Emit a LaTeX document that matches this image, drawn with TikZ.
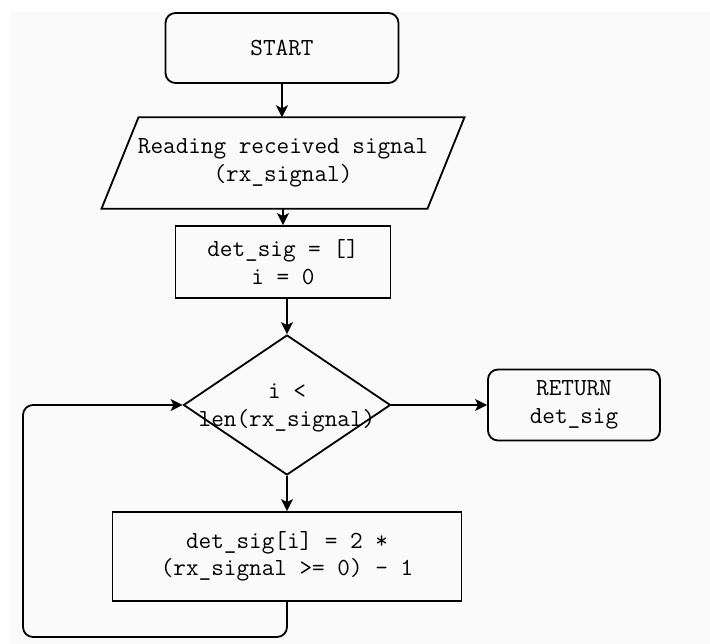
\documentclass[tikz,border=0pt]{standalone}
\usepackage{fontspec}
\usetikzlibrary{shapes.geometric,arrows.meta}
\definecolor{bgc}{HTML}{FAFAFA}
\begin{document}
\begin{tikzpicture}[x=1pt,y=-1pt,
  every node/.style={font=\ttfamily\fontsize{24.5}{27.5}\selectfont, align=center, inner sep=0pt},
  line/.style={line width=1.8pt, draw=black},
  arr/.style={line, -{Stealth[length=12pt,width=12pt,inset=3pt]}},
  term/.style={draw, line width=1.8pt, rounded corners=10pt, rectangle},
  proc/.style={draw, line width=1.8pt, rectangle}]
\fill[white] (0,0) rectangle (710,644);
\fill[bgc] (10,12) rectangle (710,644);
\useasboundingbox (0,0) rectangle (710,644);

\node[term, minimum width=233, minimum height=70] (start) at (282,48) {START};
\node[minimum width=326, minimum height=91] (read) at (283,163) {Reading received signal\\(rx\_signal)};
\draw[line] ([xshift=-144.5pt]read.north) -- ([xshift=181.5pt]read.north) -- ([xshift=144.5pt]read.south) -- ([xshift=-181.5pt]read.south) -- cycle;
\node[proc, minimum width=215, minimum height=72] (init) at (283,262) {det\_sig = []\\i = 0};
\node[diamond, draw, line width=1.8pt, minimum width=207, minimum height=140] (cond) at (287,405) {};
\node (condtext) at (287,408) {i <\\len(rx\_signal)};
\node[term, minimum width=172, minimum height=71] (ret) at (574,405) {RETURN\\det\_sig};
\node[proc, minimum width=349, minimum height=89] (body) at (287,556.5) {det\_sig[i] = 2 *\\(rx\_signal >= 0) - 1};
\coordinate (lb) at (23,637);

\draw[arr] (start.south) -- (start.south |- read.north);
\draw[arr] (read.south) -- (read.south |- init.north);
\draw[arr] (init.south -| cond.north) -- (cond.north);
\draw[arr] (cond.east) -- (ret.west);
\draw[arr] (cond.south) -- (body.north);
\draw[arr, rounded corners=10pt] (body.south) -- (body.south |- lb) -- (lb) -- (lb |- cond.west) -- (cond.west);
\end{tikzpicture}
\end{document}
